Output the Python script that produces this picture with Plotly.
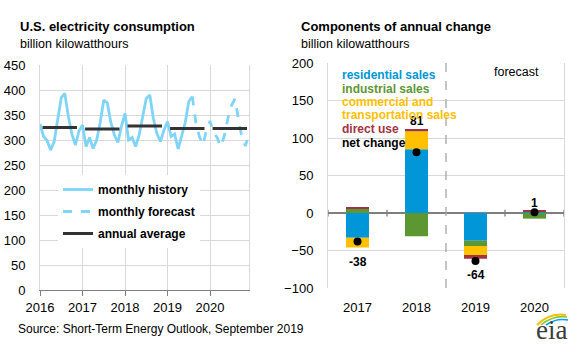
import plotly.graph_objects as go

# ---------------- data ----------------
years = [2016, 2017, 2018, 2019, 2020]
monthly_2016 = [332, 307, 299, 280, 297, 340, 385, 393, 347, 312, 290, 318]
monthly_2017 = [330, 287, 305, 283, 300, 335, 380, 374, 335, 310, 295, 328]
monthly_2018 = [353, 300, 305, 287, 310, 347, 383, 390, 343, 313, 297, 320]
monthly_2019 = [337, 307, 312, 282, 307, 335, 377, 387, 335, 307, 290, 320]
monthly_2020 = [338, 315, 305, 287, 307, 342, 368, 382, 340, 305, 288, 315]
history_months = 44          # Jan 2016 .. Aug 2019 are history
annual_avg = [325, 322, 328, 323, 323]

change_years = ["2017", "2018", "2019", "2020"]
residential = [-33, 85, -37, 1.5]
industrial = [6, -31, -7, -7.5]
commercial = [-13, 24, -12, 0]
direct_use = [2, 3, -5, 1.5]
net_change = [-38, 81, -64, 1]

# ---------------- helpers ----------------
W, H = 579, 361
def px(x):
    return x / W
def py(y):
    return 1 - y / H

FONT = "Liberation Sans, Arial, sans-serif"
LINE_BLUE = "#7FD4F8"
DARK = "#333333"
GRID = "#D9D9D9"
C_RES, C_IND, C_COM, C_DIR = "#0096D7", "#5D9732", "#FFC000", "#A33340"

monthly = monthly_2016 + monthly_2017 + monthly_2018 + monthly_2019 + monthly_2020
mx = [years[0] + i / 12 for i in range(len(monthly))]

fig = go.Figure()

fig.add_trace(go.Scatter(
    x=mx[:history_months], y=monthly[:history_months], mode="lines",
    line=dict(color=LINE_BLUE, width=2.8), name="monthly history",
    legendgroup="a", xaxis="x", yaxis="y"))
fig.add_trace(go.Scatter(
    x=mx[history_months - 1:], y=monthly[history_months - 1:], mode="lines",
    line=dict(color=LINE_BLUE, width=2.8, dash="dash"), name="monthly forecast",
    legendgroup="b", xaxis="x", yaxis="y"))

ax, ay = [], []
for yr, v in zip(years, annual_avg):
    ax += [yr + 0.06, yr + 0.87, None]
    ay += [v, v, None]
fig.add_trace(go.Scatter(
    x=ax, y=ay, mode="lines", line=dict(color=DARK, width=3),
    name="annual average", legendgroup="c", xaxis="x", yaxis="y"))

# ---------------- components bars ----------------
for vals, col, nm in [(residential, C_RES, "residential sales"),
                      (industrial, C_IND, "industrial sales"),
                      (commercial, C_COM, "commercial and transportation sales"),
                      (direct_use, C_DIR, "direct use")]:
    fig.add_trace(go.Bar(
        x=change_years, y=vals, marker=dict(color=col, line=dict(width=0)),
        width=0.39, name=nm, showlegend=False, xaxis="x2", yaxis="y2"))

fig.add_trace(go.Scatter(
    x=change_years, y=net_change, mode="markers",
    marker=dict(color="black", size=8, symbol="circle"),
    name="net change", showlegend=False, xaxis="x2", yaxis="y2"))

comps = [residential, industrial, commercial, direct_use]
annotations = []
for i, n in enumerate(net_change):
    pos_top = sum(c[i] for c in comps if c[i] > 0)
    neg_bot = sum(c[i] for c in comps if c[i] < 0)
    if n >= 0:
        annotations.append(dict(x=i, y=max(pos_top, n), xref="x2", yref="y2",
                                text=f"<b>{n}</b>", showarrow=False,
                                xanchor="center", yanchor="bottom", yshift=-1,
                                font=dict(family=FONT, size=12, color="black")))
    else:
        annotations.append(dict(x=i, y=min(neg_bot, n), xref="x2", yref="y2",
                                text=f"<b>{n}</b>", showarrow=False,
                                xanchor="center", yanchor="top", yshift=-5,
                                font=dict(family=FONT, size=12, color="black")))

def note(x, y, text, size=12, color="black", family=FONT, xanchor="left"):
    return dict(x=px(x), y=py(y), xref="paper", yref="paper", xanchor=xanchor,
                yanchor="middle", text=text, showarrow=False,
                font=dict(family=family, size=size, color=color))

annotations += [
    note(18, 27, "<b>U.S. electricity consumption</b>", 13),
    note(18, 44, "billion kilowatthours", 12.5),
    note(299, 27, "<b>Components of annual change</b>", 13),
    note(299, 44, "billion kilowatthours", 12.5),
    note(16, 329, "Source: Short-Term Energy Outlook, September 2019", 12),
    note(516, 72, "forecast", 12.5, xanchor="center"),
    note(551, 330, "eia", 27, "#3C3C3C", "Liberation Serif, DejaVu Serif, serif", "center"),
]

# colored legend text for the bars
for txt, col, yy in [("residential sales", C_RES, 75), ("industrial sales", C_IND, 89),
                     ("commercial and", C_COM, 102), ("transportation sales", C_COM, 115),
                     ("direct use", C_DIR, 129), ("net change", "black", 143)]:
    annotations.append(note(340, yy, f"<b>{txt}</b>", 12, col))

shapes = [
    # forecast divider
    dict(type="line", xref="x2", yref="y2 domain", x0=1.5, x1=1.5, y0=0, y1=1,
         line=dict(color="#A6A6A6", width=1.3, dash="dash")),
]
# tick marks on the zero line between categories
for b in [-0.5, 0.5, 2.5, 3.5]:
    shapes.append(dict(type="line", xref="x2", yref="y2", x0=b, x1=b, y0=-4.5, y1=4.5,
                       line=dict(color="#7F7F7F", width=1.3)))
# eia swoosh
shapes += [
    dict(type="path", xref="paper", yref="paper",
         path=f"M {px(537)},{py(325)} Q {px(550)},{py(312)} {px(566)},{py(315)}",
         line=dict(color="#F2C100", width=2)),
    dict(type="path", xref="paper", yref="paper",
         path=f"M {px(541)},{py(325)} Q {px(553)},{py(315)} {px(567)},{py(317)}",
         line=dict(color="#8DC63F", width=1.6)),
    dict(type="path", xref="paper", yref="paper",
         path=f"M {px(546)},{py(325)} Q {px(556)},{py(318)} {px(568)},{py(320)}",
         line=dict(color="#00A3E0", width=1.6)),
]

tickfont = dict(family=FONT, size=13, color="black")

fig.update_layout(
    template="none",
    width=W, height=H, autosize=False, margin=dict(l=0, r=0, t=0, b=0, pad=0),
    paper_bgcolor="white", plot_bgcolor="white",
    barmode="relative",
    showlegend=True,
    legend=dict(x=px(58), y=py(175), xanchor="left", yanchor="top",
                bgcolor="white", borderwidth=0, tracegroupgap=3,
                font=dict(family=FONT, size=12, color="black", weight="bold"),
                itemwidth=30),
    xaxis=dict(domain=[px(40), px(249)], range=[2016, 2020 + 11 / 12],
               tickvals=years, ticktext=[str(y) for y in years],
               showgrid=True, gridcolor=GRID, gridwidth=1,
               showline=True, linecolor="#7F7F7F", linewidth=1.3,
               ticks="outside", ticklen=5, tickcolor="#7F7F7F",
               tickfont=tickfont, zeroline=False, anchor="y", automargin=False),
    yaxis=dict(domain=[py(290), py(65)], range=[0, 450], dtick=50,
               showgrid=True, gridcolor=GRID, gridwidth=1,
               showline=True, mirror=True, linecolor=GRID,
               ticks="", ticklabelstandoff=11, tickfont=tickfont,
               zeroline=False, anchor="x", automargin=False),
    xaxis2=dict(domain=[px(328), px(564)], range=[-0.5, 3.5],
                type="category", categoryorder="array", categoryarray=change_years,
                showgrid=False, showline=False, ticks="",
                tickfont=tickfont, anchor="y2", ticklabelstandoff=10, automargin=False),
    yaxis2=dict(domain=[py(288), py(63)], range=[-100, 200], dtick=50,
                showgrid=True, gridcolor=GRID, gridwidth=1,
                showline=True, mirror=True, linecolor=GRID,
                zeroline=True, zerolinecolor="#7F7F7F", zerolinewidth=1.5,
                ticks="", ticklabelstandoff=11, tickfont=tickfont, anchor="x2",
                automargin=False),
    annotations=annotations, shapes=shapes,
)

fig.write_html("out.html", config={"displayModeBar": False},
               post_script="document.body.style.margin='0';")
